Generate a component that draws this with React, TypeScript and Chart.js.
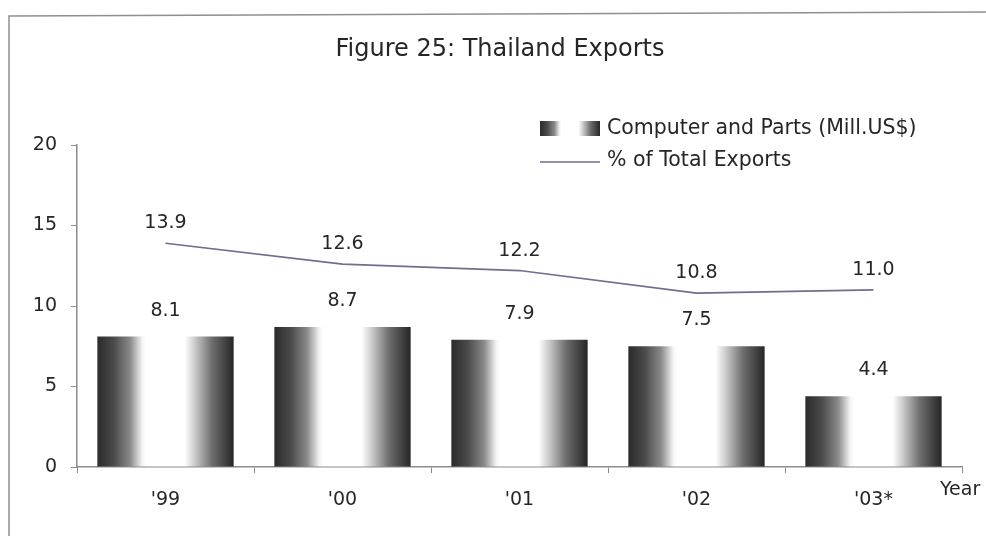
import React, { useEffect, useRef } from 'react';
import { Chart, registerables } from 'chart.js';

Chart.register(...registerables);

const categories = ["'99", "'00", "'01", "'02", "'03*"];
const computerParts = [8.1, 8.7, 7.9, 7.5, 4.4];
const pctTotal = [13.9, 12.6, 12.2, 10.8, 11.0];
const yTickValues = [0, 5, 10, 15, 20];

const TITLE = 'Figure 25: Thailand Exports';
const BAR_LABEL = 'Computer and Parts (Mill.US$)';
const LINE_LABEL = '% of Total Exports';
const X_AXIS_NAME = 'Year';

const FONT = '"DejaVu Sans", Verdana, sans-serif';
const TEXT = '#262626';
const LINE_COLOR = '#6e6e90';
const AXIS_COLOR = '#8c8c8c';
const BAR_PCT = 0.77;

function makeGradient(ctx: CanvasRenderingContext2D, x0: number, x1: number) {
  const g = ctx.createLinearGradient(x0, 0, x1, 0);
  g.addColorStop(0, '#2b2b2b');
  g.addColorStop(0.12, '#4a4a4a');
  g.addColorStop(0.24, '#8a8a8a');
  g.addColorStop(0.33, '#f4f4f4');
  g.addColorStop(0.36, '#ffffff');
  g.addColorStop(0.64, '#ffffff');
  g.addColorStop(0.7, '#d6d6d6');
  g.addColorStop(0.84, '#6e6e6e');
  g.addColorStop(1, '#262626');
  return g;
}

const overlay = {
  id: 'overlay',
  afterDraw(chart: any) {
    const ctx: CanvasRenderingContext2D = chart.ctx;
    ctx.save();
    // frame
    ctx.strokeStyle = '#8f8f8f';
    ctx.lineWidth = 1.5;
    ctx.beginPath();
    ctx.moveTo(9, 536);
    ctx.lineTo(9, 16);
    ctx.lineTo(986, 12);
    ctx.stroke();

    ctx.fillStyle = TEXT;
    ctx.textBaseline = 'middle';
    // title
    ctx.font = `24px ${FONT}`;
    ctx.textAlign = 'center';
    ctx.fillText(TITLE, 500, 50);

    // legend
    ctx.fillStyle = makeGradient(ctx, 540, 600);
    ctx.fillRect(540, 121, 60, 15);
    ctx.strokeStyle = LINE_COLOR;
    ctx.lineWidth = 1.5;
    ctx.beginPath();
    ctx.moveTo(540, 162);
    ctx.lineTo(600, 162);
    ctx.stroke();
    ctx.fillStyle = TEXT;
    ctx.textAlign = 'left';
    ctx.font = `20.5px ${FONT}`;
    ctx.fillText(BAR_LABEL, 607, 129);
    ctx.fillText(LINE_LABEL, 607, 161);

    // data labels
    ctx.textAlign = 'center';
    ctx.font = `19px ${FONT}`;
    const barMeta = chart.getDatasetMeta(0);
    barMeta.data.forEach((el: any, i: number) => {
      ctx.fillText(computerParts[i].toFixed(1), el.x, el.y - 26);
    });
    const lineMeta = chart.getDatasetMeta(1);
    lineMeta.data.forEach((el: any, i: number) => {
      ctx.fillText(pctTotal[i].toFixed(1), el.x, el.y - 20);
    });

    // x axis name
    ctx.font = `19px ${FONT}`;
    ctx.textAlign = 'left';
    ctx.fillText(X_AXIS_NAME, 940, 490);
    ctx.restore();
  },
};

export default function App() {
  const ref = useRef<HTMLCanvasElement | null>(null);
  useEffect(() => {
    if (!ref.current) return;
    const chart = new Chart(ref.current, {
      type: 'bar',
      data: {
        labels: categories,
        datasets: [
          {
            type: 'bar',
            label: BAR_LABEL,
            data: computerParts,
            backgroundColor: (c: any) => {
              const ch = c.chart;
              const xs = ch.scales && ch.scales.x;
              if (!xs || c.dataIndex === undefined || !xs.width) return '#777';
              const x = xs.getPixelForValue(c.dataIndex);
              const w = (xs.width / categories.length) * BAR_PCT;
              return makeGradient(ch.ctx, x - w / 2, x + w / 2);
            },
            borderWidth: 0,
            categoryPercentage: 1,
            barPercentage: BAR_PCT,
            order: 2,
          } as any,
          {
            type: 'line',
            label: LINE_LABEL,
            data: pctTotal,
            borderColor: LINE_COLOR,
            borderWidth: 1.6,
            pointRadius: 0,
            tension: 0,
            fill: false,
            order: 1,
          } as any,
        ],
      },
      options: {
        animation: false,
        responsive: true,
        maintainAspectRatio: false,
        layout: { padding: { top: 145, right: 24, left: 0, bottom: 0 } },
        plugins: {
          legend: { display: false },
          title: { display: false },
          tooltip: { enabled: false },
        },
        scales: {
          x: {
            offset: true,
            grid: { drawOnChartArea: false, offset: true, tickLength: 6, color: AXIS_COLOR },
            border: { color: AXIS_COLOR, width: 1.5 },
            ticks: { color: TEXT, font: { family: FONT, size: 19 }, padding: 16 },
            afterFit: (s: any) => { s.height = 69; },
          },
          y: {
            min: 0,
            max: 20,
            afterBuildTicks: (s: any) => { s.ticks = yTickValues.map((v) => ({ value: v })); },
            grid: { drawOnChartArea: false, tickLength: 6, color: AXIS_COLOR },
            border: { color: AXIS_COLOR, width: 1.5 },
            ticks: { color: TEXT, font: { family: FONT, size: 19 }, padding: 14 },
            afterFit: (s: any) => { s.width = 77; },
          },
        },
      },
      plugins: [overlay],
    } as any);
    return () => chart.destroy();
  }, []);
  return (
    <div style={{ position: 'fixed', left: 0, top: 0, width: 986, height: 536, background: '#fff' }}>
      <canvas ref={ref} />
    </div>
  );
}
